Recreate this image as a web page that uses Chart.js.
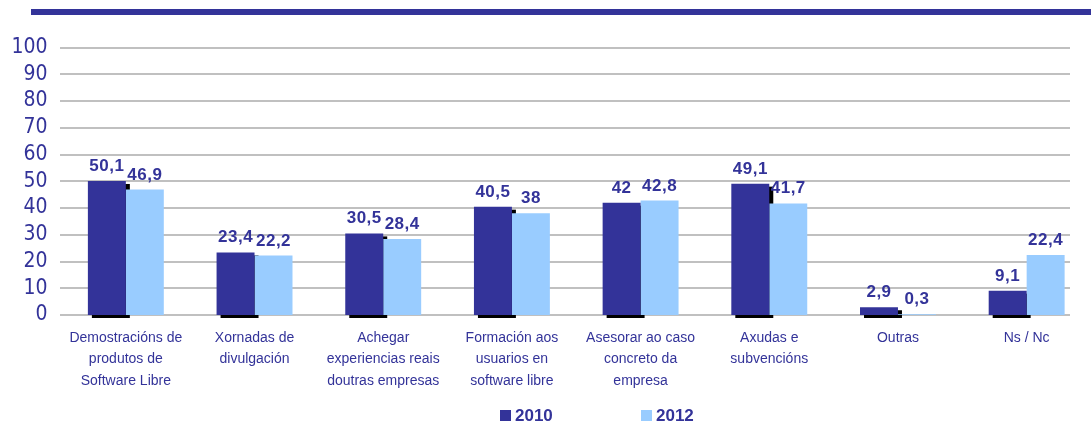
<!DOCTYPE html>
<html>
<head>
<meta charset="utf-8">
<script src="https://cdn.jsdelivr.net/npm/chart.js@4.4.1/dist/chart.umd.min.js"></script>
<style>
  html, body { margin: 0; padding: 0; background: #fff; }
  #wrap { width: 1091px; height: 441px; position: relative; }
</style>
</head>
<body>
<div id="wrap"><canvas id="chart" width="1091" height="441"></canvas></div>
<script>
const categories = [
    ["Demostracións de", "produtos de", "Software Libre"],
    ["Xornadas de", "divulgación"],
    ["Achegar", "experiencias reais", "doutras empresas"],
    ["Formación aos", "usuarios en", "software libre"],
    ["Asesorar ao caso", "concreto da", "empresa"],
    ["Axudas e", "subvencións"],
    ["Outras"],
    ["Ns / Nc"]
];
const values2010 = [50.1, 23.4, 30.5, 40.5, 42, 49.1, 2.9, 9.1];
const values2012 = [46.9, 22.2, 28.4, 38, 42.8, 41.7, 0.3, 22.4];
const seriesNames = ["2010", "2012"];
const yTicks = [0, 10, 20, 30, 40, 50, 60, 70, 80, 90, 100];

const DARK = '#333399';
const LIGHT = '#99ccff';

// gridlines (they stop short of the right edge) + black drop shadow behind 2010 bars
const underPlugin = {
    id: 'under',
    beforeDatasetsDraw(chart) {
        const ctx = chart.ctx;
        const y = chart.scales.y;
        ctx.save();
        ctx.strokeStyle = '#c0c0c0';
        ctx.lineWidth = 2;
        yTicks.forEach(v => {
            const py = Math.round(y.getPixelForValue(v));
            ctx.beginPath();
            ctx.moveTo(60, py);
            ctx.lineTo(1070, py);
            ctx.stroke();
        });
        ctx.fillStyle = '#000';
        chart.getDatasetMeta(0).data.forEach(bar => {
            const w = bar.width;
            ctx.fillRect(bar.x - w / 2 + 4, bar.y + 3, w, bar.base - bar.y);
        });
        ctx.restore();
    }
};

// value labels, top rule and legend
const decorPlugin = {
    id: 'decor',
    afterDatasetsDraw(chart) {
        const ctx = chart.ctx;
        ctx.save();
        ctx.fillStyle = DARK;
        ctx.font = 'bold 17px "Liberation Sans", Arial, sans-serif';
        ctx.letterSpacing = '0.5px';
        ctx.textAlign = 'center';
        ctx.textBaseline = 'alphabetic';
        chart.data.datasets.forEach((ds, i) => {
            chart.getDatasetMeta(i).data.forEach((bar, j) => {
                const txt = String(ds.data[j]).replace('.', ',');
                ctx.fillText(txt, bar.x, bar.y - 10);
            });
        });
        ctx.restore();
    },
    afterDraw(chart) {
        const ctx = chart.ctx;
        ctx.save();
        ctx.fillStyle = DARK;
        ctx.fillRect(31, 9, 1060, 6);

        const legendY = 415;
        const items = [{x: 500, c: DARK}, {x: 641, c: LIGHT}];
        ctx.font = 'bold 17px "Liberation Sans", Arial, sans-serif';
        ctx.textBaseline = 'middle';
        ctx.textAlign = 'left';
        items.forEach((it, i) => {
            ctx.fillStyle = it.c;
            ctx.fillRect(it.x, legendY - 5, 11, 11);
            ctx.fillStyle = DARK;
            ctx.fillText(seriesNames[i], it.x + 15, legendY + 1);
        });
        ctx.restore();
    }
};

const ctx = document.getElementById('chart').getContext('2d');
new Chart(ctx, {
    type: 'bar',
    data: {
        labels: categories,
        datasets: [
            { label: seriesNames[0], data: values2010, backgroundColor: DARK,
              categoryPercentage: 0.59, barPercentage: 1 },
            { label: seriesNames[1], data: values2012, backgroundColor: LIGHT,
              categoryPercentage: 0.59, barPercentage: 1 }
        ]
    },
    options: {
        responsive: false,
        animation: false,
        layout: { padding: { top: 47.5, right: -2.5, left: 0, bottom: 0 } },
        plugins: {
            legend: { display: false },
            tooltip: { enabled: false }
        },
        scales: {
            x: {
                grid: { display: false },
                border: { display: false },
                ticks: {
                    color: DARK,
                    font: { family: '"Liberation Sans", Arial, sans-serif', size: 14, lineHeight: 1.55 },
                    maxRotation: 0,
                    minRotation: 0,
                    autoSkip: false,
                    padding: 4
                },
                afterFit(scale) { scale.height = 126; }
            },
            y: {
                min: 0,
                max: 100,
                afterBuildTicks(scale) { scale.ticks = yTicks.map(v => ({ value: v })); },
                grid: { display: false, drawTicks: false },
                border: { display: false },
                ticks: {
                    color: DARK,
                    font: { family: '"DejaVu Sans Condensed", "DejaVu Sans", Verdana, sans-serif', size: 21 },
                    autoSkip: false,
                    padding: 14
                },
                afterFit(scale) { scale.width = 61.5; }
            }
        }
    },
    plugins: [underPlugin, decorPlugin]
});
</script>
</body>
</html>
